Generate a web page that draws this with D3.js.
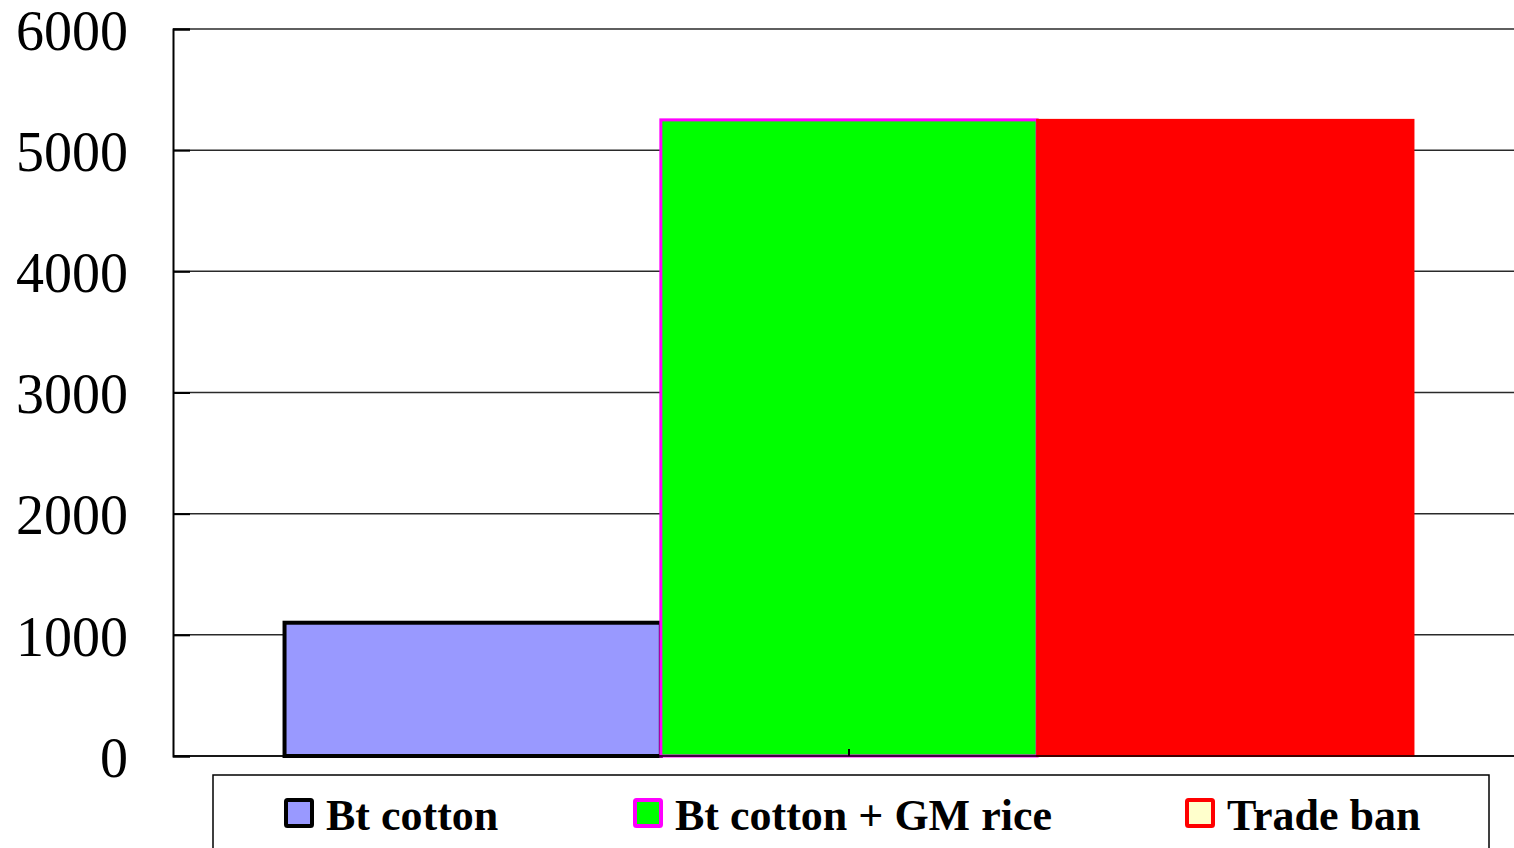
<!DOCTYPE html>
<html>
<head>
<meta charset="utf-8">
<script src="https://cdn.jsdelivr.net/npm/d3@7"></script>
<style>
  body { margin: 0; background: #ffffff; overflow: hidden; }
  svg { display: block; }
</style>
</head>
<body>
<script>
// chart data
var categories = ["Total"];
var series = ["Bt cotton", "Bt cotton + GM rice", "Trade ban"];
var values = [1100, 5250, 5250];
var yTicks = [0, 1000, 2000, 3000, 4000, 5000, 6000];

// styles per series
var barFill = ["#9999ff", "#00ff00", "#ff0000"];
var barStroke = ["#000000", "#ff00ff", "#ff0000"];
var barStrokeW = [4, 3, 2];
var swatchFill = ["#9999ff", "#00ff00", "#ffffcc"];

var width = 1514, height = 848;
var plot = { left: 173, right: 1525, top: 29, bottom: 756 };
var font = "'Liberation Serif', 'Times New Roman', serif";

var svg = d3.select("body").append("svg")
    .attr("width", width)
    .attr("height", height)
    .attr("xmlns", "http://www.w3.org/2000/svg");

svg.append("rect").attr("width", width).attr("height", height).attr("fill", "#ffffff");

// scales
var x0 = d3.scaleBand()
    .domain(categories)
    .range([plot.left, plot.right])
    .paddingInner(0)
    .paddingOuter(0.0988);
var x1 = d3.scaleBand()
    .domain(series)
    .range([0, x0.bandwidth()])
    .padding(0);
var y = d3.scaleLinear()
    .domain([0, 6000])
    .range([plot.bottom, plot.top]);

// gridlines
svg.append("g").selectAll("line")
    .data(yTicks)
    .enter()
    .append("line")
    .attr("x1", plot.left)
    .attr("x2", plot.right)
    .attr("y1", function (d) { return y(d); })
    .attr("y2", function (d) { return y(d); })
    .style("stroke", "#2a2a2a")
    .style("stroke-width", 1.5);

// y axis with inward ticks
var yAxis = svg.append("g")
    .attr("transform", "translate(" + plot.left + ",0)")
    .call(d3.axisLeft(y).tickValues(yTicks).tickSize(-17).tickPadding(62).tickFormat(d3.format("d")));
yAxis.select(".domain").style("stroke", "#000").style("stroke-width", 2);
yAxis.selectAll(".tick line").style("stroke", "#000").style("stroke-width", 2);
yAxis.selectAll(".tick text")
    .attr("x", -45)
    .attr("dy", "0.36em")
    .style("font-family", font)
    .style("font-size", "56px")
    .style("fill", "#000");

// bars
var groups = svg.append("g").selectAll("g")
    .data(categories)
    .enter()
    .append("g")
    .attr("transform", function (d) { return "translate(" + x0(d) + ",0)"; });

groups.selectAll("rect")
    .data(function () {
        return series.map(function (s, i) { return { key: s, value: values[i], i: i }; });
    })
    .enter()
    .append("rect")
    .attr("x", function (d) { return x1(d.key); })
    .attr("y", function (d) { return y(d.value); })
    .attr("width", x1.bandwidth())
    .attr("height", function (d) { return y(0) - y(d.value); })
    .style("fill", function (d) { return barFill[d.i]; })
    .style("stroke", function (d) { return barStroke[d.i]; })
    .style("stroke-width", function (d) { return barStrokeW[d.i]; });

// x axis baseline and center tick
svg.append("line")
    .attr("x1", plot.left).attr("x2", plot.right)
    .attr("y1", y(0)).attr("y2", y(0))
    .style("stroke", "#000").style("stroke-width", 1.5);
svg.append("g").selectAll("line")
    .data(categories)
    .enter()
    .append("line")
    .attr("x1", function (d) { return x0(d) + x0.bandwidth() / 2; })
    .attr("x2", function (d) { return x0(d) + x0.bandwidth() / 2; })
    .attr("y1", y(0) - 7)
    .attr("y2", y(0))
    .style("stroke", "#000").style("stroke-width", 2);

// legend
var legendX = [284, 633, 1185];
var legend = svg.append("g");
legend.append("rect")
    .attr("x", 213).attr("y", 775)
    .attr("width", 1276).attr("height", 100)
    .style("fill", "none").style("stroke", "#000").style("stroke-width", 1.5);

var items = legend.selectAll("g.item")
    .data(series)
    .enter()
    .append("g")
    .attr("class", "item")
    .attr("transform", function (d, i) { return "translate(" + legendX[i] + ",799)"; });
items.append("rect")
    .attr("x", 2).attr("y", 1)
    .attr("width", 26).attr("height", 26)
    .attr("rx", 1.5)
    .style("fill", function (d, i) { return swatchFill[i]; })
    .style("stroke", function (d, i) { return barStroke[i]; })
    .style("stroke-width", 4);
items.append("text")
    .attr("x", 42)
    .attr("y", 31)
    .text(function (d) { return d; })
    .style("font-family", font)
    .style("font-weight", "bold")
    .style("font-size", "44px")
    .style("fill", "#000");
</script>
</body>
</html>
